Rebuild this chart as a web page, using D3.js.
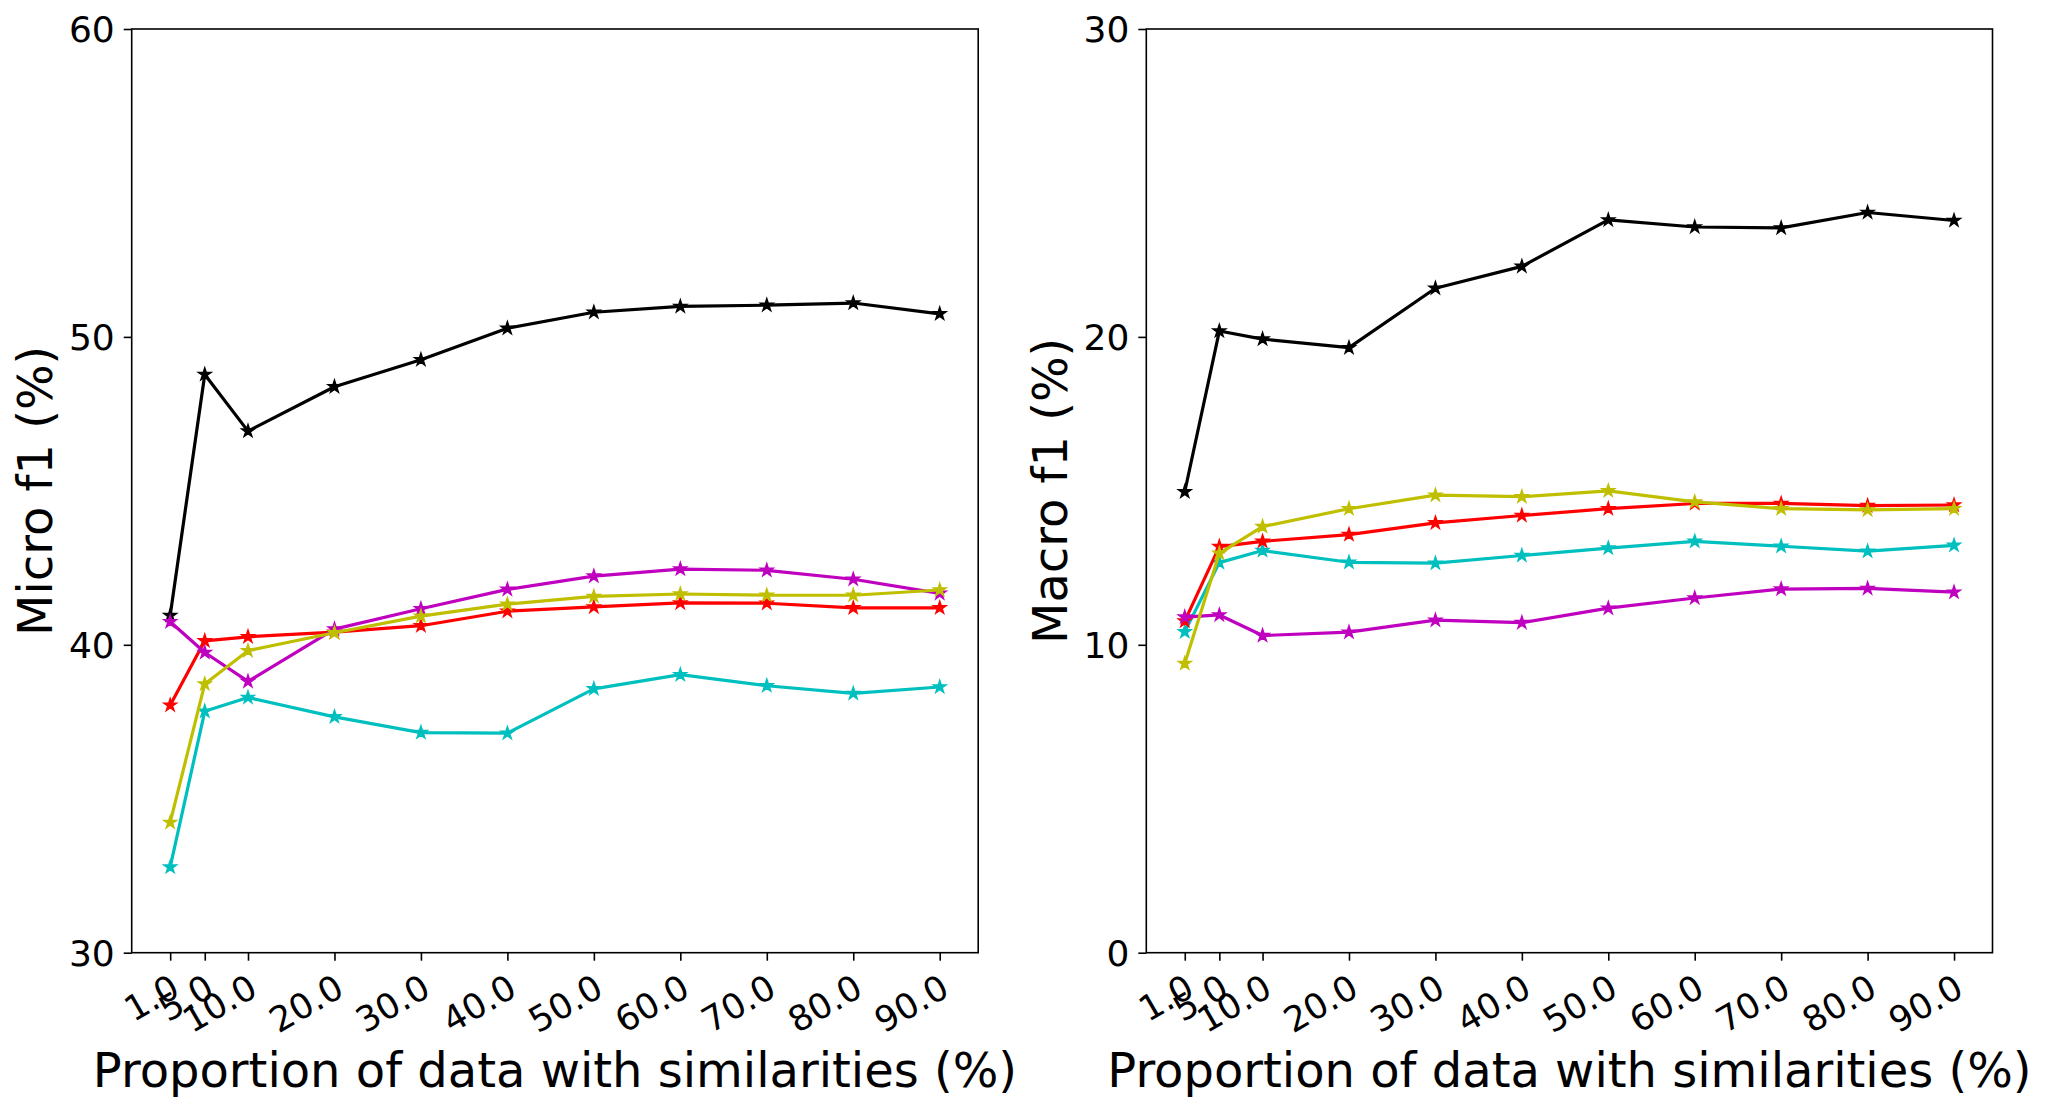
<!DOCTYPE html>
<html>
<head>
<meta charset="utf-8">
<script src="https://cdn.jsdelivr.net/npm/d3@7"></script>
<style>
  html, body { margin: 0; padding: 0; background: #fff; }
  svg { display: block; }
  text { font-family: "DejaVu Sans", sans-serif; fill: #000; }
</style>
</head>
<body>
<svg id="chart" width="2047" height="1111"></svg>
<script>
// ---- data ----
const xValues = [1, 5, 10, 20, 30, 40, 50, 60, 70, 80, 90];
const xTickLabels = ["1.0", "5.0", "10.0", "20.0", "30.0", "40.0", "50.0", "60.0", "70.0", "80.0", "90.0"];

const microBlack   = [40.95, 48.78, 46.94, 48.38, 49.26, 50.28, 50.80, 50.99, 51.03, 51.10, 50.75];
const microRed     = [38.04, 40.13, 40.26, 40.41, 40.62, 41.09, 41.23, 41.36, 41.35, 41.20, 41.20];
const microCyan    = [32.78, 37.84, 38.29, 37.66, 37.15, 37.13, 38.57, 39.03, 38.67, 38.42, 38.63];
const microMagenta = [40.75, 39.75, 38.81, 40.51, 41.17, 41.80, 42.23, 42.46, 42.42, 42.13, 41.67];
const microYellow  = [34.23, 38.73, 39.81, 40.39, 40.93, 41.32, 41.57, 41.65, 41.61, 41.61, 41.78];

const macroBlack   = [14.97, 20.19, 19.93, 19.65, 21.58, 22.29, 23.80, 23.57, 23.54, 24.04, 23.78];
const macroRed     = [10.77, 13.19, 13.36, 13.58, 13.96, 14.20, 14.42, 14.59, 14.59, 14.52, 14.54];
const macroCyan    = [10.42, 12.67, 13.06, 12.68, 12.65, 12.90, 13.14, 13.36, 13.20, 13.04, 13.23];
const macroMagenta = [10.90, 10.97, 10.30, 10.41, 10.80, 10.72, 11.19, 11.52, 11.81, 11.83, 11.71];
const macroYellow  = [9.39, 12.97, 13.84, 14.42, 14.86, 14.81, 15.00, 14.64, 14.42, 14.38, 14.42];

const microTicks = [30, 40, 50, 60];
const macroTicks = [0, 10, 20, 30];

const seriesColors = { black: "#000000", red: "#ff0000", cyan: "#00bfbf", magenta: "#bf00bf", yellow: "#bfbf00" };

const panels = [
  { ylabel: "Micro f1 (%)", yDomain: [30, 60], yTicks: microTicks,
    series: [["black", microBlack], ["cyan", microCyan], ["red", microRed], ["magenta", microMagenta], ["yellow", microYellow]],
    left: 131.7, right: 978.2, ylabelX: 52 },
  { ylabel: "Macro f1 (%)", yDomain: [0, 30], yTicks: macroTicks,
    series: [["black", macroBlack], ["cyan", macroCyan], ["red", macroRed], ["magenta", macroMagenta], ["yellow", macroYellow]],
    left: 1146.3, right: 1992.5, ylabelX: 1067 }
];

const plotTop = 29, plotBottom = 952.7;
const svg = d3.select("#chart");
const xPad = (90 - 1) * 0.05;

panels.forEach(p => {
  const x = d3.scaleLinear().domain([1 - xPad, 90 + xPad]).range([p.left, p.right]);
  const y = d3.scaleLinear().domain(p.yDomain).range([plotBottom, plotTop]);
  const g = svg.append("g");

  // lines and markers
  const line = d3.line().x((d, i) => x(xValues[i])).y(d => y(d));
  const star = d3.symbol().type(d3.symbolStar).size(48);
  p.series.forEach(([name, vals]) => {
    const c = seriesColors[name];
    g.append("path").datum(vals).attr("d", line)
      .attr("fill", "none").attr("stroke", c).attr("stroke-width", 3.2)
      .attr("stroke-linejoin", "round");
    g.selectAll(null).data(vals).enter().append("path")
      .attr("d", star)
      .attr("transform", (d, i) => `translate(${x(xValues[i])},${y(d)})`)
      .attr("fill", c).attr("stroke", c).attr("stroke-width", 1.5);
  });

  // frame
  g.append("rect").attr("x", p.left).attr("y", plotTop)
    .attr("width", p.right - p.left).attr("height", plotBottom - plotTop)
    .attr("fill", "none").attr("stroke", "#000").attr("stroke-width", 1.6);

  // y axis
  const yAxis = d3.axisLeft(y).tickValues(p.yTicks).tickSize(8).tickPadding(9).tickFormat(d3.format("d"));
  const ya = g.append("g").attr("transform", `translate(${p.left},0)`).call(yAxis);
  ya.select(".domain").remove();
  ya.selectAll(".tick line").attr("stroke", "#000").attr("stroke-width", 1.6);
  ya.selectAll(".tick text").attr("font-size", 36).attr("font-family", "DejaVu Sans").attr("dy", "0.36em");

  // x axis
  const xAxis = d3.axisBottom(x).tickValues(xValues).tickSize(8).tickFormat((d, i) => xTickLabels[i]);
  const xa = g.append("g").attr("transform", `translate(0,${plotBottom})`).call(xAxis);
  xa.select(".domain").remove();
  xa.selectAll(".tick line").attr("stroke", "#000").attr("stroke-width", 1.6);
  xa.selectAll(".tick text")
    .attr("font-size", 35).attr("font-family", "DejaVu Sans")
    .attr("text-anchor", "end")
    .attr("x", 0).attr("y", 0).attr("dy", 0)
    .attr("transform", "translate(11,42) rotate(-30)");

  // labels
  svg.append("text").attr("x", (p.left + p.right) / 2).attr("y", 1086.5)
    .attr("text-anchor", "middle").attr("font-size", 48)
    .text("Proportion of data with similarities (%)");
  svg.append("text")
    .attr("transform", `translate(${p.ylabelX},${(plotTop + plotBottom) / 2}) rotate(-90)`)
    .attr("text-anchor", "middle").attr("font-size", 48)
    .text(p.ylabel);
});
</script>
</body>
</html>
